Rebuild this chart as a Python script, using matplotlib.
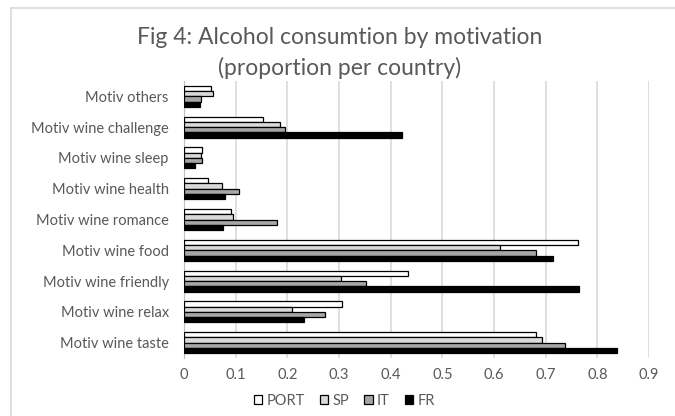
import matplotlib
matplotlib.use("Agg")
import matplotlib.pyplot as plt
import numpy as np

plt.rcParams['font.family'] = ['Lato', 'DejaVu Sans']

# Categories, listed bottom to top as on the axis
categories = ["Motiv wine taste", "Motiv wine relax", "Motiv wine friendly",
              "Motiv wine food", "Motiv wine romance", "Motiv wine health",
              "Motiv wine sleep", "Motiv wine challenge", "Motiv others"]

series_names = ["PORT", "SP", "IT", "FR"]
port = [0.682, 0.305, 0.434, 0.762, 0.090, 0.047, 0.035, 0.153, 0.052]
sp   = [0.693, 0.209, 0.303, 0.611, 0.094, 0.073, 0.033, 0.185, 0.056]
it   = [0.737, 0.272, 0.353, 0.682, 0.180, 0.106, 0.034, 0.196, 0.032]
fr   = [0.839, 0.232, 0.765, 0.715, 0.076, 0.080, 0.021, 0.422, 0.031]
x_ticks = [0, 0.1, 0.2, 0.3, 0.4, 0.5, 0.6, 0.7, 0.8, 0.9]

colors = ["#ffffff", "#d9d9d9", "#a6a6a6", "#000000"]
text_grey = "#595959"

fig = plt.figure(figsize=(6.75, 4.16), dpi=100)
fig.patch.set_facecolor("white")

# chart-area frame (left and top edges visible)
fig.add_artist(plt.Line2D([11/675, 11/675], [0, 1 - 8/416], color="#d9d9d9", lw=1.2,
                          transform=fig.transFigure))
fig.add_artist(plt.Line2D([11/675, 1], [1 - 8/416, 1 - 8/416], color="#d9d9d9", lw=1.2,
                          transform=fig.transFigure))

ax = fig.add_axes([184/675, 58/416, 465/675, 277/416])

y = np.arange(len(categories))
bar_h = 0.17
values = [port, sp, it, fr]
for i, (name, vals, c) in enumerate(zip(series_names, values, colors)):
    offset = (1.5 - i) * bar_h
    ax.barh(y + offset, vals, height=bar_h, color=c, edgecolor="black",
            linewidth=0.9, label=name, zorder=3)

ax.set_xlim(0, 0.9)
ax.set_ylim(-0.5, len(categories) - 0.5)
ax.set_xticks(x_ticks)
ax.set_xticklabels([f"{t:g}" for t in x_ticks])
ax.set_yticks(y)
ax.set_yticklabels(categories)
ax.xaxis.grid(True, color="#d9d9d9", lw=1.2, zorder=0)
ax.set_axisbelow(True)
for side in ["top", "right", "bottom"]:
    ax.spines[side].set_visible(False)
ax.spines["left"].set_color("#bfbfbf")
ax.tick_params(axis="both", length=0, colors=text_grey, labelsize=10.5)
ax.tick_params(axis="x", pad=7)
ax.tick_params(axis="y", pad=11)

fig.text(0.503, 1 - 38/416, "Fig 4: Alcohol consumtion by motivation",
         ha="center", va="center", fontsize=16.5, color=text_grey)
fig.text(0.503, 1 - 68/416, "(proportion per country)",
         ha="center", va="center", fontsize=16.5, color=text_grey)

handles, labels = ax.get_legend_handles_labels()
leg = fig.legend(handles, labels, loc="center", bbox_to_anchor=(0.51, 1 - 401/416),
                 ncol=4, frameon=False, fontsize=10.5, handlelength=0.6, handleheight=0.6,
                 handletextpad=0.3, columnspacing=1.0, labelcolor=text_grey)

fig.savefig("out.png", dpi=100, facecolor="white")
